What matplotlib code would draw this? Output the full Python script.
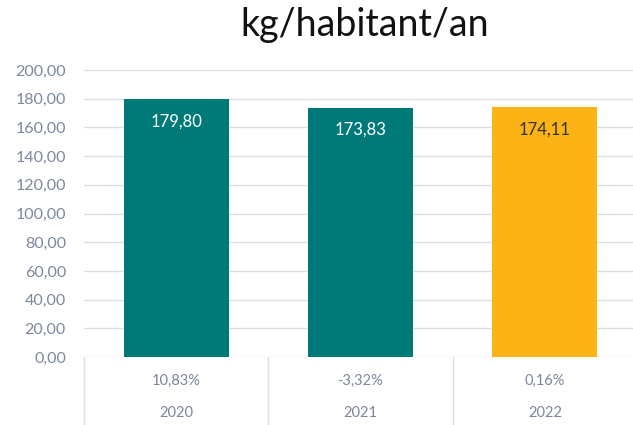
import matplotlib.pyplot as plt
from matplotlib.ticker import FuncFormatter, MultipleLocator

years = ["2020", "2021", "2022"]
values = [179.80, 173.83, 174.11]
variations = ["10,83%", "-3,32%", "0,16%"]
colors = ["#007A78", "#007A78", "#FCB316"]
label_colors = ["white", "white", "#333333"]

plt.rcParams['font.family'] = ['Lato', 'DejaVu Sans']
grey_txt = "#7D879C"
grid_col = "#DADFE7"

fig = plt.figure(figsize=(6.33, 4.25), dpi=100)
ax = fig.add_axes([84 / 633, 1 - 357 / 425, 553 / 633, 287 / 425])

x = list(range(len(years)))
bars = ax.bar(x, values, width=0.57, color=colors, zorder=3)
for b, v, c in zip(bars, values, label_colors):
    ax.annotate(f"{v:.2f}".replace('.', ','), (b.get_x() + b.get_width() / 2, v),
                xytext=(0, -16), textcoords="offset points", ha="center", va="center",
                color=c, fontsize=12)

ax.set_xlim(-0.5, 2.5)
ax.set_ylim(0, 200)
ax.yaxis.set_major_locator(MultipleLocator(20))
ax.yaxis.set_major_formatter(FuncFormatter(lambda v, p: f"{v:.2f}".replace('.', ',')))
ax.tick_params(axis='y', length=0, labelsize=11.5, labelcolor=grey_txt, pad=13)
ax.set_xticks([])
ax.grid(axis='y', color=grid_col, linewidth=1, zorder=0)
for s in ax.spines.values():
    s.set_visible(False)

# table below the axis
tr = ax.get_xaxis_transform()
for i, (yr, var) in enumerate(zip(years, variations)):
    ax.text(i, -0.084, var, transform=tr, ha="center", va="center", color=grey_txt, fontsize=10.5)
    ax.text(i, -0.195, yr, transform=tr, ha="center", va="center", color=grey_txt, fontsize=10.5)
for xd in [-0.5, 0.5, 1.5, 2.5]:
    ax.plot([xd, xd], [0, -0.25], transform=tr, color=grid_col, linewidth=1, clip_on=False)

fig.text(365 / 633, 1 - 25 / 425, "kg/habitant/an", ha="center", va="center", fontsize=27,
         color="#111111")

fig.savefig("out.png", dpi=100)
